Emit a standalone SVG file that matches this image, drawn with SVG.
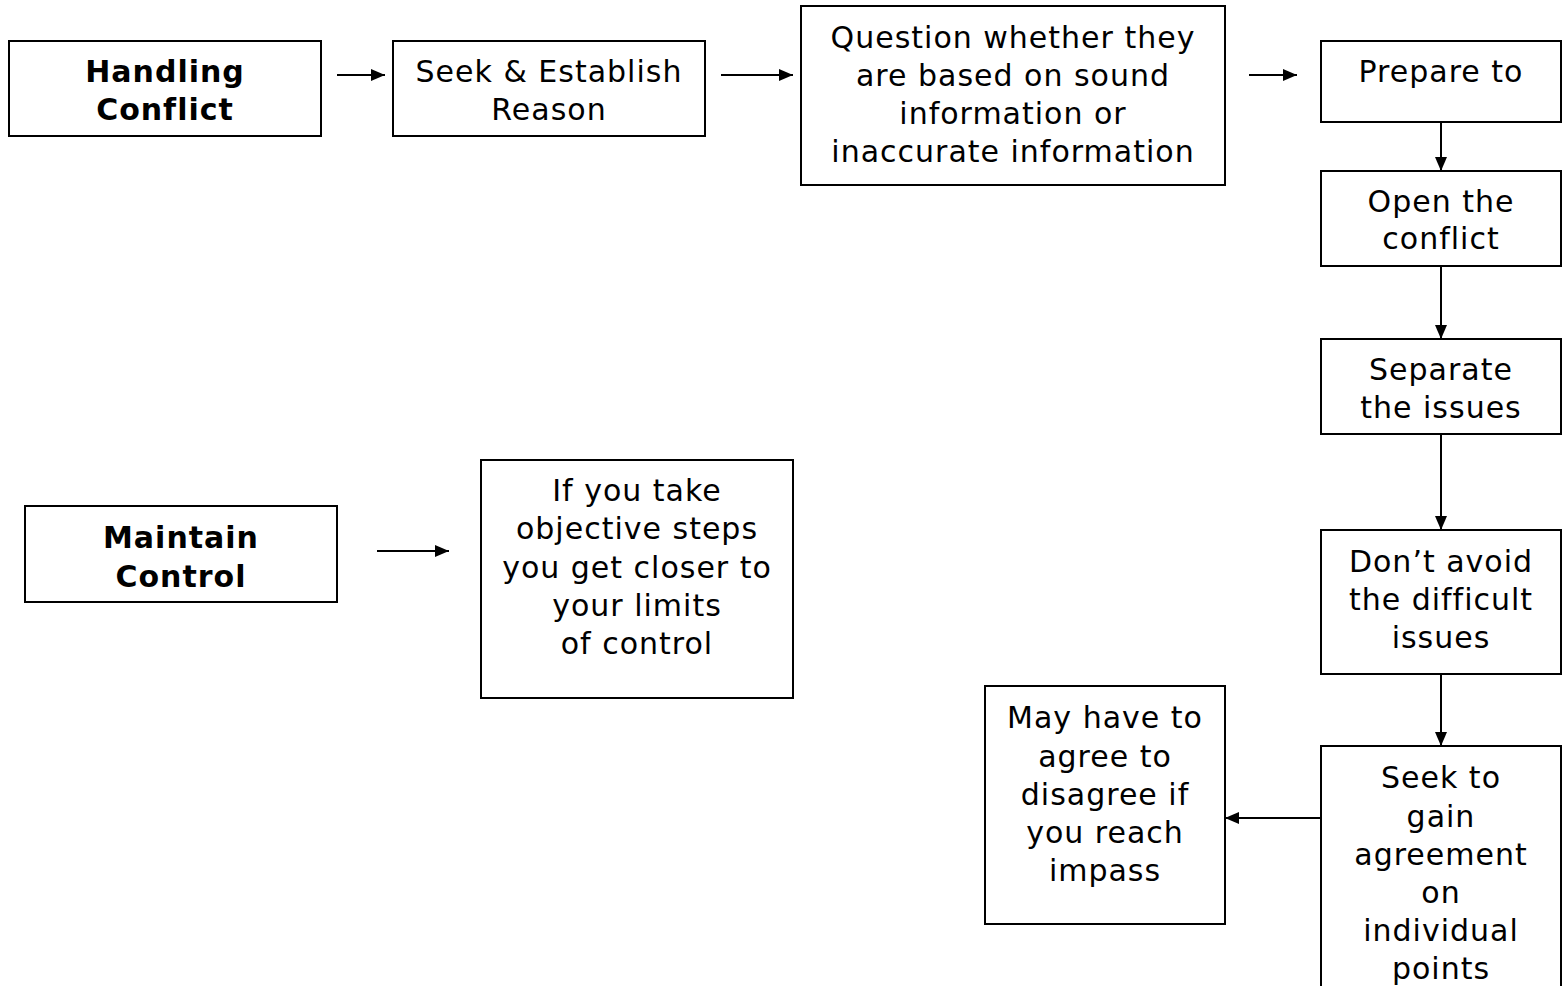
<svg xmlns="http://www.w3.org/2000/svg" width="1564" height="986" viewBox="0 0 1564 986">
<style>
.box{fill:#fff;stroke:#000;stroke-width:2}
text{font-family:"DejaVu Sans","Verdana",sans-serif;font-size:30px;letter-spacing:1px;fill:#000;text-anchor:middle}
.b{font-weight:bold}
.c{stroke:#000;stroke-width:2;fill:none;marker-end:url(#ah)}
</style>
<defs>
<marker id="ah" markerWidth="14" markerHeight="12" refX="14" refY="6" orient="auto" markerUnits="userSpaceOnUse">
<path d="M0,0 L14,6 L0,12 Z" fill="#000"/>
</marker>
</defs>
<rect width="1564" height="986" fill="#fff"/>
<g id="handling">
<rect class="box" x="9" y="41" width="312" height="95"/>
<text class="b" x="165" y="82">Handling</text>
<text class="b" x="165" y="120">Conflict</text>
</g>
<g id="seek">
<rect class="box" x="393" y="41" width="312" height="95"/>
<text x="549" y="82">Seek &amp; Establish</text>
<text x="549" y="120">Reason</text>
</g>
<g id="question">
<rect class="box" x="801" y="6" width="424" height="179"/>
<text x="1013" y="48">Question whether they</text>
<text x="1013" y="86">are based on sound</text>
<text x="1013" y="124">information or</text>
<text x="1013" y="162">inaccurate information</text>
</g>
<g id="prepare">
<rect class="box" x="1321" y="41" width="240" height="81"/>
<text x="1441" y="82">Prepare to</text>
</g>
<g id="open">
<rect class="box" x="1321" y="171" width="240" height="95"/>
<text x="1441" y="212">Open the</text>
<text x="1441" y="249">conflict</text>
</g>
<g id="separate">
<rect class="box" x="1321" y="339" width="240" height="95"/>
<text x="1441" y="380">Separate</text>
<text x="1441" y="418">the issues</text>
</g>
<g id="dont">
<rect class="box" x="1321" y="530" width="240" height="144"/>
<text x="1441" y="572">Don’t avoid</text>
<text x="1441" y="610">the difficult</text>
<text x="1441" y="648">issues</text>
</g>
<g id="seekto">
<rect class="box" x="1321" y="746" width="240" height="250"/>
<text x="1441" y="788">Seek to</text>
<text x="1441" y="827">gain</text>
<text x="1441" y="865">agreement</text>
<text x="1441" y="903">on</text>
<text x="1441" y="941">individual</text>
<text x="1441" y="979">points</text>
</g>
<g id="may">
<rect class="box" x="985" y="686" width="240" height="238"/>
<text x="1105" y="728">May have to</text>
<text x="1105" y="767">agree to</text>
<text x="1105" y="805">disagree if</text>
<text x="1105" y="843">you reach</text>
<text x="1105" y="881">impass</text>
</g>
<g id="maintain">
<rect class="box" x="25" y="506" width="312" height="96"/>
<text class="b" x="181" y="548">Maintain</text>
<text class="b" x="181" y="587">Control</text>
</g>
<g id="ifyou">
<rect class="box" x="481" y="460" width="312" height="238"/>
<text x="637" y="501">If you take</text>
<text x="637" y="539">objective steps</text>
<text x="637" y="578">you get closer to</text>
<text x="637" y="616">your limits</text>
<text x="637" y="654">of control</text>
</g>
<g id="connectors">
<line class="c" x1="337" y1="75" x2="385" y2="75"/>
<line class="c" x1="721" y1="75" x2="793" y2="75"/>
<line class="c" x1="1249" y1="75" x2="1297" y2="75"/>
<line class="c" x1="1441" y1="122" x2="1441" y2="171"/>
<line class="c" x1="1441" y1="266" x2="1441" y2="339"/>
<line class="c" x1="1441" y1="434" x2="1441" y2="530"/>
<line class="c" x1="1441" y1="674" x2="1441" y2="746"/>
<line class="c" x1="1321" y1="818" x2="1225" y2="818"/>
<line class="c" x1="377" y1="551" x2="449" y2="551"/>
</g>
</svg>
